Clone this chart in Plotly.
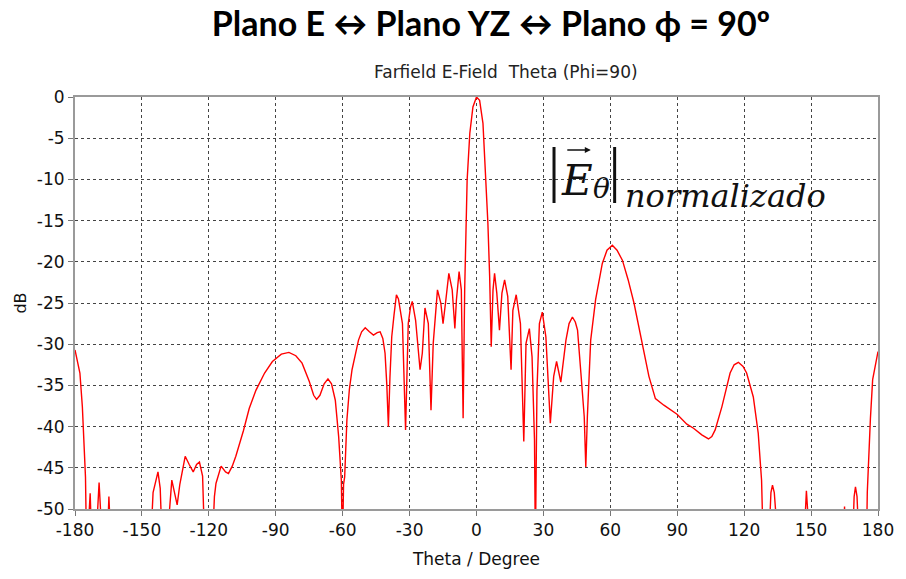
import plotly.graph_objects as go

# ---- data ----
theta = [
    -180, -179, -177.8, -176.7, -176, -175.3, -174.8,
    -174.6, -173.2, -172.4,
    -170.8, -169.2, -167.6,
    -165.6, -164.8, -163.8,
    -146.2, -145, -142.8, -141.8, -140.8,
    -139, -136.6, -135.3, -134.2, -133, -130.6, -128.8, -127, -125.5, -124.2, -122.8, -121.8,
    -118.5, -117.5, -116.8, -114.5, -112.5, -111.2, -109.5, -107.9, -104.5, -101.9, -98.9, -95,
    -91.5, -87.5, -84.1, -81, -78.2, -75, -73, -71.7, -70.2, -68.3, -66.6, -65, -63.3, -61.8,
    -60.6, -60.1, -59.6, -59.1, -58.1, -57, -55.8, -54.2, -52.9, -51.5, -49.9, -48, -46.2,
    -44.5, -43.2, -42, -41.0, -40.2, -39.5, -38.8, -38.0, -37.0, -35.9, -35, -33.2, -31.8,
    -30.6, -29.6, -28.8, -27.3, -25.8, -25.3, -24.3, -23.1, -21.6, -20.4, -19.4, -17.5, -16.0,
    -15, -13.9, -12.4, -10.9, -9.7, -9.0, -7.8, -6.8, -6.0, -5.3, -4.8, -4.2, -3.0, -1.6, 0,
    1.4, 2.9, 4.1, 5.1, 5.9, 6.6, 7.4, 8.1, 9.1, 10.3, 11.4, 12.6, 14, 15.5, 16.3, 17.8, 19.7,
    21.2, 22.2, 23.7, 24.9, 26.0, 26.4, 27.1, 28.2, 29.5, 31.1, 32.3, 33.1, 34.6, 35.9, 37.8,
    40.1, 41.5, 43.0, 44.3, 45.3, 46.8, 48.3, 49.0, 49.7, 51.2, 53.4, 56.4, 58.5, 60.9, 63,
    65.4, 68, 70.6, 74.3, 77.3, 80.2, 84.0, 89.9, 94.3, 97.3, 101, 104.0, 105.5, 107.0, 110.0,
    113.7, 115.5, 117.4, 119.5, 121.1, 124.1, 126.3, 127.8, 128.6,
    130.9, 132, 132.7, 133.5, 135.4,
    146.6, 147.9, 149.6,
    164.5, 165, 165.5,
    168.5, 169.3, 169.9, 170.6, 171.6,
    174.8, 175.2, 175.8, 176.6, 177.6, 179.1, 180,
]
db = [
    -30.7, -32.1, -33.5, -37.6, -41.6, -46.1, -55,
    -55, -48.1, -55,
    -55, -46.8, -55,
    -55, -48.5, -55,
    -55, -48, -45.5, -47.5, -55,
    -55, -46.5, -48, -49.5, -47, -43.6, -44.6, -45.5, -44.6, -44.3, -46, -55,
    -55, -48.5, -46.9, -44.8, -45.5, -45.7, -44.8, -43.6, -40.5, -37.8, -35.6, -33.5,
    -32.1, -31.2, -31.0, -31.4, -32.3, -34.5, -36.2, -36.7, -36.2, -34.8, -34.2, -34.8, -36.8, -41.2,
    -46.5, -55, -47, -46.1, -39.2, -35.5, -33.1, -31, -29.5, -28.5, -28.0, -28.5, -28.9,
    -28.6, -28.5, -29.3, -31.1, -35, -40.0, -34, -29.1, -26.5, -24.0, -24.5, -27.5, -40.4,
    -27.5, -25.5, -24.8, -27.1, -31.1, -33.1, -31.1, -25.6, -27.5, -38.0, -29.9, -23.4, -25.0,
    -27.5, -25.0, -21.4, -23.4, -28.1, -24.6, -21.2, -23.4, -39.0, -23.4, -15.3, -10.1, -4.4, -1.2, 0,
    -0.4, -3.2, -9.3, -15.3, -21.8, -30.3, -23.4, -21.4, -23.8, -28.3, -23.8, -22.2, -24.2, -33.1, -25.9, -24.0, -27.5,
    -41.8, -29.9, -28.1, -31.5, -41.6, -55, -35.6, -27.5, -26.1, -29.1, -35, -39.6, -33.9, -32.1, -34.6,
    -29.5, -27.5, -26.7, -27.3, -28.3, -33.5, -38.8, -44.9, -38.8, -29.5, -24.6, -20.2, -18.6, -18.0, -18.6,
    -19.8, -22.2, -25.0, -29.9, -33.9, -36.6, -37.4, -38.5, -39.7, -40.2, -41.0, -41.5, -41.2, -40.4, -37.6,
    -33.5, -32.5, -32.2, -32.7, -33.5, -36.4, -40.8, -46.5, -55,
    -55, -48, -47.1, -48, -55,
    -55, -47.8, -55,
    -55, -49.7, -55,
    -55, -48.5, -47.3, -48.5, -55,
    -55, -48, -43.7, -39, -34.3, -31.9, -30.9,
]
x_ticks = [-180, -150, -120, -90, -60, -30, 0, 30, 60, 90, 120, 150, 180]
y_ticks = [0, -5, -10, -15, -20, -25, -30, -35, -40, -45, -50]

W, H = 906, 579
L, R, T, B = 75, 23, 97, 70


def px(xp, yp):
    return (xp - L) / (W - L - R), (H - B - yp) / (H - T - B)


fig = go.Figure()
fig.add_trace(go.Scatter(x=theta, y=db, mode="lines",
                         line=dict(color="#ff0000", width=1.4),
                         showlegend=False, hoverinfo="x+y"))

axis_common = dict(showline=True, mirror=True, linecolor="#9a9a9a", linewidth=2,
                   showgrid=True, gridcolor="#444444", griddash="dot", gridwidth=1,
                   zeroline=False, ticks="outside", ticklen=5, tickcolor="#777777",
                   tickfont=dict(family="DejaVu Sans", size=17, color="#111111"))

fig.update_xaxes(range=[-180, 180], tickvals=x_ticks, ticktext=[str(v) for v in x_ticks],
                 title=dict(text="Theta / Degree", standoff=14,
                            font=dict(family="DejaVu Sans", size=17, color="#111111")),
                 **axis_common)
fig.update_yaxes(range=[-50, 0], tickvals=y_ticks, ticktext=[str(v) for v in y_ticks],
                 title=dict(text="dB", standoff=6,
                            font=dict(family="DejaVu Sans", size=16, color="#111111")),
                 **axis_common)

annots = []
# subtitle
sx, sy = px(509, 72)
annots.append(dict(text="Farfield E-Field  Theta (Phi=90)", x=sx, y=sy, xref="paper", yref="paper",
                   xanchor="center", yanchor="middle", showarrow=False,
                   font=dict(family="DejaVu Sans", size=17, color="#222222")))
# formula |E_theta|_normalizado
ex, ey = px(580, 180)
annots.append(dict(text="<i>E</i>", x=ex, y=ey, xref="paper", yref="paper",
                   xanchor="center", yanchor="middle", showarrow=False,
                   font=dict(family="DejaVu Serif", size=42, color="#111111")))
tx, ty = px(605, 188)
annots.append(dict(text="<i>θ</i>", x=tx, y=ty, xref="paper", yref="paper",
                   xanchor="center", yanchor="middle", showarrow=False,
                   font=dict(family="DejaVu Serif", size=28, color="#111111")))
nx, ny = px(626, 196)
annots.append(dict(text="<i>normalizado</i>", x=nx, y=ny, xref="paper", yref="paper",
                   xanchor="left", yanchor="middle", showarrow=False,
                   font=dict(family="DejaVu Serif", size=32, color="#111111")))
ahx, ahy = px(594, 150)
annots.append(dict(text="", x=ahx, y=ahy, xref="paper", yref="paper", ax=-25, ay=0,
                   showarrow=True, arrowhead=2, arrowsize=0.8, arrowwidth=1.5, arrowcolor="#111111"))
fig.update_layout(annotations=annots)

shapes = []
for bx in (557, 618):
    x0, y0 = px(bx, 147)
    _, y1 = px(bx, 203)
    shapes.append(dict(type="line", xref="paper", yref="paper", x0=x0, x1=x0, y0=y0, y1=y1,
                       line=dict(color="#111111", width=3)))
fig.update_layout(shapes=shapes)

fig.update_layout(
    width=W, height=H,
    margin=dict(l=L, r=R, t=T, b=B),
    paper_bgcolor="white", plot_bgcolor="white",
    title=dict(text="<b>Plano E ↔ Plano YZ ↔ Plano ϕ = 90º</b>", x=491 / W, xanchor="center",
               y=1 - 24 / H, yanchor="middle", font=dict(family="Lato", size=34, color="#000000")),
)

fig.write_html("out.html")
